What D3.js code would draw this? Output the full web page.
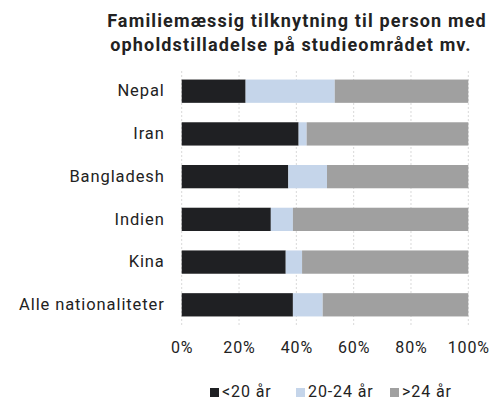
<!DOCTYPE html>
<html><head><meta charset="utf-8">
<script src="https://cdn.jsdelivr.net/npm/d3@7"></script>
<style>body{margin:0;background:#fff}svg{display:block;font-family:Roboto,"DejaVu Sans",sans-serif}</style>
</head><body>
<svg id="c" width="491" height="400"></svg>
<script>
const categories = ["Nepal","Iran","Bangladesh","Indien","Kina","Alle nationaliteter"];
const seriesNames = ["<20 år","20-24 år",">24 år"];
const under20 = [22.3, 40.8, 37.2, 31.1, 36.3, 38.8];
const age20to24 = [31.1, 2.8, 13.5, 7.7, 5.7, 10.4];
const over24 = [46.6, 56.4, 49.3, 61.2, 58.0, 50.8];
const xTicks = [0, 20, 40, 60, 80, 100];
const colors = ["#1f2023", "#c5d5ea", "#a0a0a0"];
const titleLines = ["Familiemæssig tilknytning til person med", "opholdstilladelse på studieområdet mv."];

const svg = d3.select("#c");
const m = {left:181.7, right:468.3, top:71, bottom:325};
const x = d3.scaleLinear().domain([0,100]).range([m.left, m.right]);
const y = d3.scaleBand().domain(categories).range([m.top, m.bottom]).paddingInner(0.455).paddingOuter(0.2);

// title
const titleX = [297, 291];
svg.append("g").selectAll("text").data(titleLines).join("text")
  .attr("x", (d,i)=>titleX[i]).attr("y", (d,i)=>27+i*24)
  .attr("text-anchor","middle").attr("font-size",18).attr("font-weight","bold")
  .attr("letter-spacing",1.15).attr("fill","#222")
  .text(d=>d);

// gridlines
svg.append("g").selectAll("line").data(xTicks).join("line")
  .attr("x1", d=>x(d)).attr("x2", d=>x(d)).attr("y1", m.top).attr("y2", m.bottom)
  .attr("stroke","#d9d9d9").attr("stroke-width",1).attr("stroke-dasharray","2,2");

// stacked data
const rows = categories.map((c,i)=>({cat:c, "<20 år":under20[i], "20-24 år":age20to24[i], ">24 år":over24[i]}));
const stack = d3.stack().keys(seriesNames)(rows);
svg.append("g").selectAll("g").data(stack).join("g")
  .attr("fill",(d,i)=>colors[i])
  .selectAll("rect").data(d=>d).join("rect")
  .attr("x", d=>x(d[0])).attr("width", d=>x(d[1])-x(d[0]))
  .attr("y", d=>y(d.data.cat)).attr("height", y.bandwidth());

// y axis labels
const ya = svg.append("g").attr("transform",`translate(${m.left},0)`)
  .call(d3.axisLeft(y).tickSize(0).tickPadding(17));
ya.select(".domain").remove();
ya.selectAll("text").attr("font-size",16.5).attr("letter-spacing",0.9).attr("fill","#222").attr("font-family","Roboto, sans-serif");

// x axis labels
const xa = svg.append("g").attr("transform",`translate(0,${m.bottom})`)
  .call(d3.axisBottom(x).tickValues(xTicks).tickFormat(d=>d+"%").tickSize(0).tickPadding(17));
xa.select(".domain").remove();
xa.selectAll("text").attr("font-size",16).attr("letter-spacing",0.9).attr("fill","#222").attr("font-family","Roboto, sans-serif");

// legend
const legX = [210, 296, 390];
const leg = svg.append("g").selectAll("g").data(seriesNames).join("g")
  .attr("transform",(d,i)=>`translate(${legX[i]},388)`);
leg.append("rect").attr("width",9).attr("height",9).attr("fill",(d,i)=>colors[i]);
leg.append("text").attr("x",12).attr("y",8.5).attr("font-size",16).attr("letter-spacing",0.9).attr("fill","#222").text(d=>d);
</script>
</body></html>
